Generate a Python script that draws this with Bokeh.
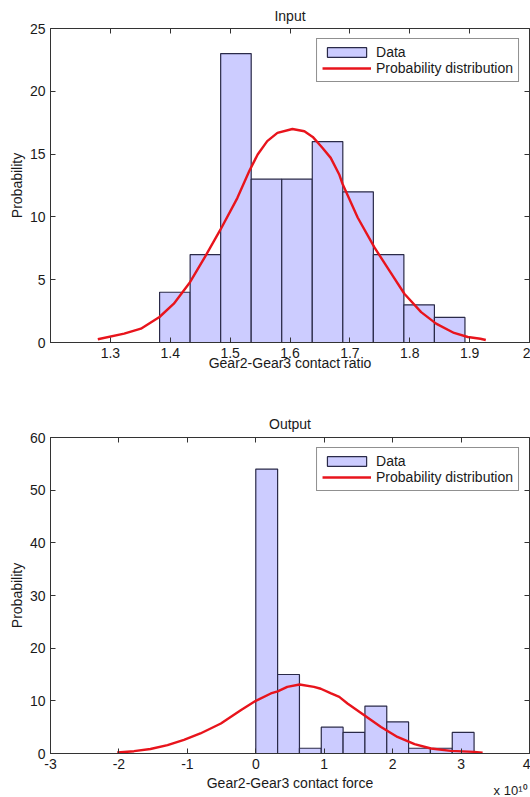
from bokeh.plotting import figure
from bokeh.layouts import column
from bokeh.models import (LinearAxis, FixedTicker, Range1d, Legend,
                          LegendItem, NumeralTickFormatter, Title)
from bokeh.embed import file_html
from bokeh.resources import INLINE

FONT = "Liberation Sans"
TXT = "#1a1a1a"
AX = "#333333"

# ---------------- data: Input panel ----------------
input_bin_edges = [1.3822, 1.4332, 1.4842, 1.5352, 1.5862, 1.6372,
                   1.6882, 1.7392, 1.7902, 1.8412, 1.8922]
input_counts = [4, 7, 23, 13, 13, 16, 12, 7, 3, 2]
input_curve_x = [1.279, 1.323, 1.351, 1.382, 1.406, 1.433, 1.459, 1.484,
                 1.512, 1.532, 1.546, 1.562, 1.579, 1.604, 1.624, 1.638,
                 1.654, 1.668, 1.682, 1.688, 1.713, 1.741, 1.766, 1.791,
                 1.819, 1.844, 1.874, 1.897, 1.918, 1.927]
input_curve_y = [0.26, 0.71, 1.1, 2.03, 3.09, 4.8, 6.9, 9.0, 11.5, 13.65,
                 14.97, 16.03, 16.69, 17.0, 16.82, 16.37, 15.5, 14.7, 13.4,
                 12.6, 9.95, 7.57, 5.72, 3.88, 2.42, 1.5, 0.76, 0.44, 0.3,
                 0.2]
input_xticks = [1.3, 1.4, 1.5, 1.6, 1.7, 1.8, 1.9, 2.0]
input_yticks = [0, 5, 10, 15, 20, 25]
input_xrange = (1.2, 2.0)
input_yrange = (0, 25)

# ---------------- data: Output panel ----------------
output_bin_edges = [0.0, 0.319, 0.638, 0.957, 1.276, 1.595, 1.914,
                    2.233, 2.552, 2.871, 3.19]
output_counts = [54, 15, 1, 5, 4, 9, 6, 1, 1, 4]
output_curve_x = [-2.025, -1.78, -1.54, -1.29, -1.05, -0.81, -0.51, -0.22,
                  0.0, 0.22, 0.32, 0.46, 0.64, 0.85, 0.95, 1.10, 1.22, 1.34,
                  1.58, 1.83, 2.07, 2.32, 2.56, 2.85, 3.19, 3.315]
output_curve_y = [0.19, 0.44, 0.85, 1.6, 2.6, 3.8, 5.7, 8.2, 10.0, 11.4,
                  11.8, 12.65, 13.1, 12.65, 12.3, 11.4, 10.75, 9.5, 7.3,
                  5.05, 3.15, 1.77, 0.95, 0.5, 0.3, 0.15]
output_xticks = [-3, -2, -1, 0, 1, 2, 3, 4]
output_yticks = [0, 10, 20, 30, 40, 50, 60]
output_xrange = (-3, 4)
output_yrange = (0, 60)
output_scale_text = "x 10\u00b9\u2070"


def style_axis(ax, label_size="14px"):
    ax.major_tick_in = 5
    ax.major_tick_out = 0
    ax.minor_tick_line_color = None
    ax.axis_line_color = AX
    ax.major_tick_line_color = AX
    ax.major_label_text_font = FONT
    ax.major_label_text_font_size = label_size
    ax.major_label_text_color = TXT
    ax.axis_label_text_font = FONT
    ax.axis_label_text_font_size = "14px"
    ax.axis_label_text_font_style = "normal"
    ax.axis_label_text_color = TXT


def make_panel(title, xlabel, edges, counts, cx, cy, xr, yr, xticks, yticks,
               height, mbt, mbb, fmt, xlabel_standoff, title_standoff):
    p = figure(width=530, height=height,
               x_range=Range1d(*xr), y_range=Range1d(*yr),
               output_backend="svg", toolbar_location=None,
               min_border_left=50, min_border_right=1,
               min_border_top=mbt, min_border_bottom=mbb)
    p.title.text = title
    p.title.align = "center"
    p.title.text_font = FONT
    p.title.text_font_size = "14px"
    p.title.text_font_style = "normal"
    p.title.text_color = TXT
    p.title.standoff = title_standoff
    p.xgrid.visible = False
    p.ygrid.visible = False
    p.background_fill_color = "white"
    p.border_fill_color = "white"
    p.outline_line_color = AX
    p.outline_line_width = 1

    p.xaxis.ticker = FixedTicker(ticks=xticks)
    p.yaxis.ticker = FixedTicker(ticks=yticks)
    p.xaxis.formatter = NumeralTickFormatter(format=fmt)
    p.yaxis.formatter = NumeralTickFormatter(format="0")
    p.xaxis.axis_label = xlabel
    p.yaxis.axis_label = "Probability"
    for ax in p.axis:
        style_axis(ax)
    p.xaxis.major_label_standoff = 5
    p.xaxis.axis_label_standoff = xlabel_standoff
    p.yaxis.major_label_standoff = 5
    p.yaxis.axis_label_standoff = 2

    # mirrored inward ticks on the top and right edges (MATLAB box style)
    top_ax = LinearAxis(ticker=FixedTicker(ticks=xticks))
    right_ax = LinearAxis(ticker=FixedTicker(ticks=yticks))
    for ax in (top_ax, right_ax):
        style_axis(ax, label_size="0px")
        ax.major_label_text_color = None
        ax.major_label_standoff = 0
        ax.axis_line_color = None
    p.add_layout(top_ax, "above")
    p.add_layout(right_ax, "right")

    bars = p.quad(left=edges[:-1], right=edges[1:], bottom=0, top=counts,
                  fill_color="#ccccff", line_color="#2a2a48", line_width=1.2)
    curve = p.line(cx, cy, line_color="#e8141c", line_width=2.4,
                   line_join="round")

    legend = Legend(items=[LegendItem(label="Data", renderers=[bars]),
                           LegendItem(label="Probability distribution",
                                      renderers=[curve])],
                    location="top_right")
    legend.border_line_color = "#222222"
    legend.border_line_width = 1
    legend.background_fill_alpha = 1
    legend.label_text_font = FONT
    legend.label_text_font_size = "14px"
    legend.label_text_color = TXT
    legend.glyph_width = 49
    legend.glyph_height = 12
    legend.label_height = 14
    legend.label_standoff = 5
    legend.padding = 5
    legend.spacing = 0
    legend.margin = 10
    p.add_layout(legend)
    return p


p1 = make_panel("Input", "Gear2-Gear3 contact ratio", input_bin_edges,
                input_counts, input_curve_x, input_curve_y, input_xrange,
                input_yrange, input_xticks, input_yticks, 400, 27, 58,
                "0.[0]", -6, 10)
p2 = make_panel("Output", "Gear2-Gear3 contact force", output_bin_edges,
                output_counts, output_curve_x, output_curve_y, output_xrange,
                output_yrange, output_xticks, output_yticks, 397, 37, 44,
                "0", 3, 12)

scale_title = Title(text=output_scale_text, align="right", offset=2,
                    standoff=-22, vertical_align="top", text_font=FONT,
                    text_font_size="13px", text_font_style="normal",
                    text_color=TXT)
p2.add_layout(scale_title, "below")

layout = column(p1, p2)
open("out.html", "w").write(file_html(layout, INLINE))
